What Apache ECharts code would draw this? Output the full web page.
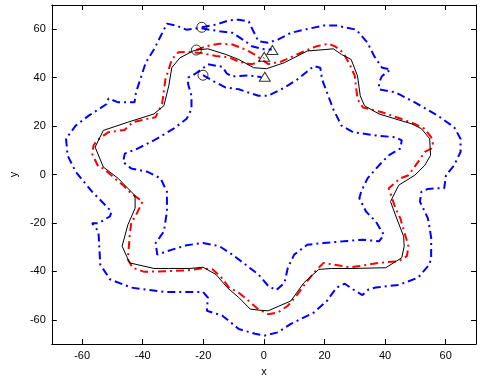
<!DOCTYPE html>
<html>
<head>
<meta charset="utf-8">
<script src="https://cdn.jsdelivr.net/npm/echarts@6/dist/echarts.min.js"></script>
<style>
  html, body { margin: 0; padding: 0; background: #fff; }
  #main { width: 482px; height: 382px; }
</style>
</head>
<body>
<div id="main"></div>
<script>
// reference path (black)
const refPath = [[-22.3,51.4],[-18.5,51.9],[-12.6,49.6],[-8.3,47.5],[-3.4,44.1],[0.9,43.7],[6.8,46.2],[14.3,51],[20.2,51.6],[22.9,51.9],[25.6,49.6],[28.8,47.5],[30.9,40.7],[31.8,32.5],[33.2,28.4],[38,25],[48.8,20.9],[52,18.9],[54.7,14.8],[55,7.9],[53.1,3.8],[49.8,-0.3],[44.5,-4.4],[41.8,-11.2],[43.4,-16.7],[46.1,-25.5],[46.3,-29.6],[45.5,-34.4],[40.2,-38.5],[29.4,-38.8],[22.4,-38.8],[18.1,-39.2],[13.2,-44.7],[8.9,-52.2],[1.4,-56.3],[-1.8,-56],[-4.5,-55.6],[-8.3,-50.8],[-12.1,-46.7],[-15.8,-41.3],[-20.1,-38.3],[-24.4,-38.8],[-31.4,-38.8],[-36.3,-38.8],[-44.3,-36.5],[-46.8,-29.6],[-44.9,-20.8],[-42.5,-13.9],[-42.5,-9.8],[-42.7,-8.5],[-48.1,-1.6],[-53,3.1],[-55.7,11.3],[-53,18.2],[-44.9,21.6],[-36.3,25],[-33,28.4],[-31.4,36.6],[-30.4,44.1],[-27.7,48.2],[-23.4,51],[-22.3,51.4]];

// middle vehicle (red)
const midPath = [[-22.3,51.4],[-19,53],[-14.7,54],[-10.4,53.7],[-6.1,51.6],[-3,49.5],[-0.5,47.3],[1.5,45.6],[5.8,46.7],[13.2,50.8],[17.5,53],[21.3,54],[23.5,52.9],[26.2,50.3],[28.3,45.5],[30,40.7],[30.5,35.2],[30.9,31.1],[32.7,27.7],[39,25.7],[45.5,22.9],[49.8,20.9],[53,18.9],[55.2,15.4],[55.8,12.5],[55.2,10.7],[53.1,9.3],[50.9,5.2],[47.7,-0.3],[45,-1.6],[41.2,-5.7],[42.3,-9.8],[43.4,-13.9],[45,-18],[46.6,-24.9],[47.7,-29.6],[47.2,-33.7],[44.5,-35.8],[38,-36.5],[31.5,-37.8],[28.3,-38.3],[22.9,-37.2],[19.7,-36.5],[17,-39.9],[14.3,-44],[11.1,-49.5],[7.9,-54.2],[4.6,-57],[1.4,-57.7],[-1.8,-55.7],[-5,-52.2],[-8.3,-48.8],[-11.5,-46.7],[-14.2,-42.3],[-16.9,-39.2],[-20.1,-38.8],[-25.5,-39.6],[-32,-39.9],[-39.5,-40.2],[-43.3,-38.5],[-44.9,-35.1],[-44.3,-25.5],[-43.8,-20.1],[-42.2,-16.7],[-40,-11.2],[-43.8,-7.8],[-46.5,-4.4],[-49.2,-1.6],[-53,2.5],[-54.6,3.1],[-56.7,8.6],[-56.2,12],[-55.1,14.1],[-51.3,17.5],[-46,18.4],[-43.3,21.6],[-38.4,23],[-35.8,23.6],[-33.6,29.1],[-32.5,39.3],[-31.4,43.4],[-30.4,47.5],[-28.2,50.5],[-25,50.7],[-20,50],[-15.8,48.9],[-11.6,48.4],[-8,46.5],[-4,45.5],[-1.5,46.8],[0.1,48.2]];

// outer vehicle (blue)
const outerPath = [[-20.5,60.8],[-15.8,61.9],[-11.5,63.7],[-8.3,63.9],[-5,63.2],[-4,60.5],[-2.9,57.8],[-1.8,55],[1.4,54.4],[4.6,55.7],[8.9,58.5],[14,60],[19.7,61.5],[24,61.5],[30.5,59.8],[34.2,54.4],[36.4,48.9],[39,44.1],[41.8,43.4],[39,40.7],[38,38],[38,35.2],[43.4,33.9],[49.8,29.8],[57.4,24.3],[62.8,19.5],[64.9,14.8],[64.9,9.3],[62.8,3.8],[60.1,-0.3],[59.5,-5.7],[57.4,-5.7],[54.1,-6],[52,-7.1],[51.5,-11.2],[54.1,-18],[54.7,-22.1],[55.2,-26.2],[55.2,-34.4],[54.6,-37.2],[50.9,-42.6],[44.5,-45.6],[36.9,-46.7],[34.5,-47.5],[32.5,-49.8],[29.5,-47.5],[26.7,-45.1],[24,-46.7],[20.8,-52.2],[16.5,-57],[8.9,-61.7],[4.6,-65.2],[0.3,-66.5],[-2.9,-65.8],[-8.3,-63.8],[-13.7,-58.3],[-18.8,-56.3],[-18.5,-50.8],[-20.1,-48.5],[-33,-48.5],[-43.8,-46.7],[-50.8,-43.3],[-54,-37.2],[-54.6,-23.5],[-56.7,-20.1],[-54.6,-20.1],[-50.8,-17.3],[-50.3,-15.3],[-50.3,-14.6],[-56.7,-7.1],[-62.1,1.1],[-64.8,7.9],[-65.3,14.8],[-62.1,20.2],[-57.8,24.3],[-51.9,29.1],[-51.3,31.4],[-48.1,29.8],[-42.7,29.8],[-42.2,33.9],[-39,46.2],[-36.3,51.6],[-32,62.3],[-29,61.5],[-25.5,59.8],[-21.2,60.5],[-18,59.8],[-14.7,59.2],[-10.4,58.5],[-6.1,55],[-4,53],[-0.5,51.8],[2.6,51.6]];

// inner vehicle (blue)
const innerPath = [[-20.1,41],[-16.9,38.7],[-12.6,35.9],[-8.3,35.2],[-1.8,32.5],[1.4,32.5],[6.8,35.9],[11.1,39.3],[16.5,44.8],[18.6,44.1],[19.2,39.3],[20.8,33.9],[22.9,27],[25.6,20.2],[29.4,17.5],[36.9,16.1],[43.4,15.4],[45.5,14.1],[45,10.7],[41.2,7.9],[38,3.8],[34.2,-1.6],[32.1,-7.1],[31.5,-9.8],[33.7,-15.3],[36.9,-19.4],[39.6,-24.9],[38,-27.6],[32.6,-26.9],[26.2,-27.6],[19.7,-28.3],[14.3,-29],[10,-33.1],[7.9,-38.5],[6.8,-44.7],[4.1,-47.8],[1.4,-46],[-1.8,-41.3],[-6.1,-37.2],[-10.4,-33.1],[-14.7,-29.6],[-20.1,-28.3],[-25.5,-29.2],[-32,-31.7],[-35.2,-33.1],[-35.7,-28.3],[-33,-23.5],[-32,-15.3],[-32,-7.1],[-34.1,-1.6],[-38.4,1.1],[-43.8,2.5],[-46.5,5.2],[-45.9,8.6],[-41.7,10.7],[-36.3,14.1],[-29.8,18.9],[-25.5,23],[-23.9,27],[-23.9,32.5],[-25,37.3],[-25,40],[-22.9,41.4],[-20.5,43.5],[-18.5,45.5],[-13.7,44.5],[-12.3,41.8],[-10.4,40.5],[-5,40.9],[-0.8,40.2]];

const startPts = [[-20.5,60.8],[-22.3,51.4],[-20.1,41]];
const endPts = [[2.8,51.4],[0.1,48.6],[0.3,40.4]];
const tickVals = [-60, -40, -20, 0, 20, 40, 60];

const chart = echarts.init(document.getElementById('main'));
const font = 'Liberation Sans, Arial, sans-serif';
const dashDot = [8, 4, 2, 4];

function boxAxis(pos, labels) {
    return {
        type: 'value', position: pos, min: -70, max: 70,
        axisLine: { show: true, onZero: false, lineStyle: { color: '#000', width: 1 } },
        axisTick: { show: true, inside: true, length: 5, customValues: tickVals, lineStyle: { color: '#000' } },
        axisLabel: { show: labels, customValues: tickVals, color: '#000', fontSize: 11, fontFamily: font, margin: 6 },
        splitLine: { show: false }
    };
}

const xBottom = Object.assign(boxAxis('bottom', true), {
    name: 'x', nameLocation: 'middle', nameGap: 22,
    nameTextStyle: { color: '#000', fontSize: 11, fontFamily: font }
});
const yLeft = Object.assign(boxAxis('left', true), {
    name: 'y', nameLocation: 'middle', nameGap: 30,
    nameTextStyle: { color: '#000', fontSize: 11, fontFamily: font }
});

function path(data, color, width, type, z) {
    return {
        type: 'line', data: data, showSymbol: false, smooth: false, z: z,
        lineStyle: { color: color, width: width, type: type, cap: 'butt' }
    };
}

chart.setOption({
    animation: false,
    backgroundColor: '#fff',
    grid: { left: 42, right: 6, top: 5, bottom: 35 },
    xAxis: [xBottom, boxAxis('top', false)],
    yAxis: [yLeft, boxAxis('right', false)],
    series: [
        path(outerPath, '#0000ff', 2, dashDot, 2),
        path(innerPath, '#0000ff', 2, dashDot, 2),
        path(midPath, '#ff0000', 2, dashDot, 3),
        path(refPath, '#000000', 1, 'solid', 4),
        {
            type: 'scatter', data: startPts, symbol: 'circle', symbolSize: 10, z: 5,
            itemStyle: { color: 'rgba(0,0,0,0)', borderColor: '#000', borderWidth: 1 }
        },
        {
            type: 'scatter', data: endPts, symbol: 'triangle', symbolSize: [11, 9], z: 5,
            itemStyle: { color: 'rgba(0,0,0,0)', borderColor: '#000', borderWidth: 1 }
        }
    ]
});
</script>
</body>
</html>
